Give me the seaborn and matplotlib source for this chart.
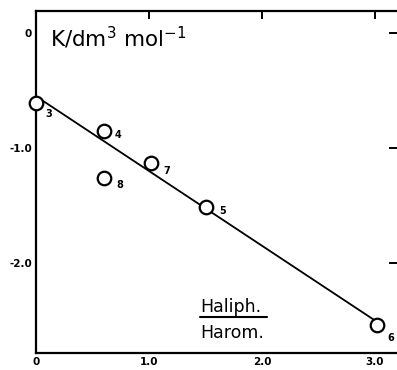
import matplotlib
matplotlib.use("Agg")
import matplotlib.pyplot as plt
import seaborn as sns
import pandas as pd

# data
labels = ["3", "4", "8", "7", "5", "6"]
ratio = [0.0, 0.60, 0.60, 1.02, 1.50, 3.02]
logk = [-0.61, -0.85, -1.26, -1.13, -1.51, -2.54]
fit_x = [0.0, 3.0]
fit_y = [-0.55, -2.50]
xticks = [0, 1.0, 2.0, 3.0]
xtick_labels = ["0", "1.0", "2.0", "3.0"]
yticks = [0, -1.0, -2.0]
ytick_labels = ["0", "-1.0", "-2.0"]

sns.set_style("white")
plt.rcParams["font.family"] = ["DejaVu Sans"]
plt.rcParams["text.color"] = "black"
plt.rcParams["xtick.color"] = "black"
plt.rcParams["ytick.color"] = "black"
plt.rcParams["axes.labelcolor"] = "black"

fig = plt.figure(figsize=(3.97, 3.70), dpi=100)
ax = fig.add_axes([36/397, 1-353/370, 361/397, 342/370])

pts = pd.DataFrame({"x": ratio, "y": logk, "lab": labels})
fit = pd.DataFrame({"x": fit_x, "y": fit_y})

sns.lineplot(data=fit, x="x", y="y", ax=ax, color="black", lw=1.3, zorder=2)
sns.scatterplot(data=pts, x="x", y="y", ax=ax, marker="o", s=95,
                facecolor="white", edgecolor="black", linewidth=1.6, zorder=3,
                clip_on=False)

offsets = {"3": (7, -8), "4": (8, -3), "8": (9, -5), "7": (9, -6), "5": (10, -3), "6": (7, -9)}
for x, y, l in zip(ratio, logk, labels):
    ax.annotate(l, (x, y), xytext=offsets[l], textcoords="offset points",
                fontsize=7, fontweight="bold", ha="left", va="center")

ax.set_xlim(0, 361/113)
ax.set_ylim(-(353-33)/115, (33-11)/115)
ax.set_xticks(xticks)
ax.set_xticklabels(xtick_labels, fontsize=7.5, fontweight="bold")
ax.set_yticks(yticks)
ax.set_yticklabels(ytick_labels, fontsize=7.5, fontweight="bold")
ax.tick_params(direction="in", length=6, width=1.4, top=True, right=True,
               labeltop=False, labelright=False, pad=3, colors="black")
ax.set_xlabel("")
ax.set_ylabel("")
for s in ["left", "bottom", "top"]:
    ax.spines[s].set_linewidth(1.6)
    ax.spines[s].set_color("black")
ax.spines["right"].set_visible(False)

ax.text(0.04, 0.922, r"K/dm$^3$ mol$^{-1}$", transform=ax.transAxes,
        fontsize=15.5, va="center", ha="left", color="black")

ax.text(0.455, 0.12, "Haliph.", transform=ax.transAxes, fontsize=12.5, ha="left", va="baseline")
ax.plot([0.455, 0.64], [0.105, 0.105], transform=ax.transAxes, color="black", lw=1.5)
ax.text(0.455, 0.045, "Harom.", transform=ax.transAxes, fontsize=12.5, ha="left", va="baseline")

fig.savefig("out.png", dpi=100)
